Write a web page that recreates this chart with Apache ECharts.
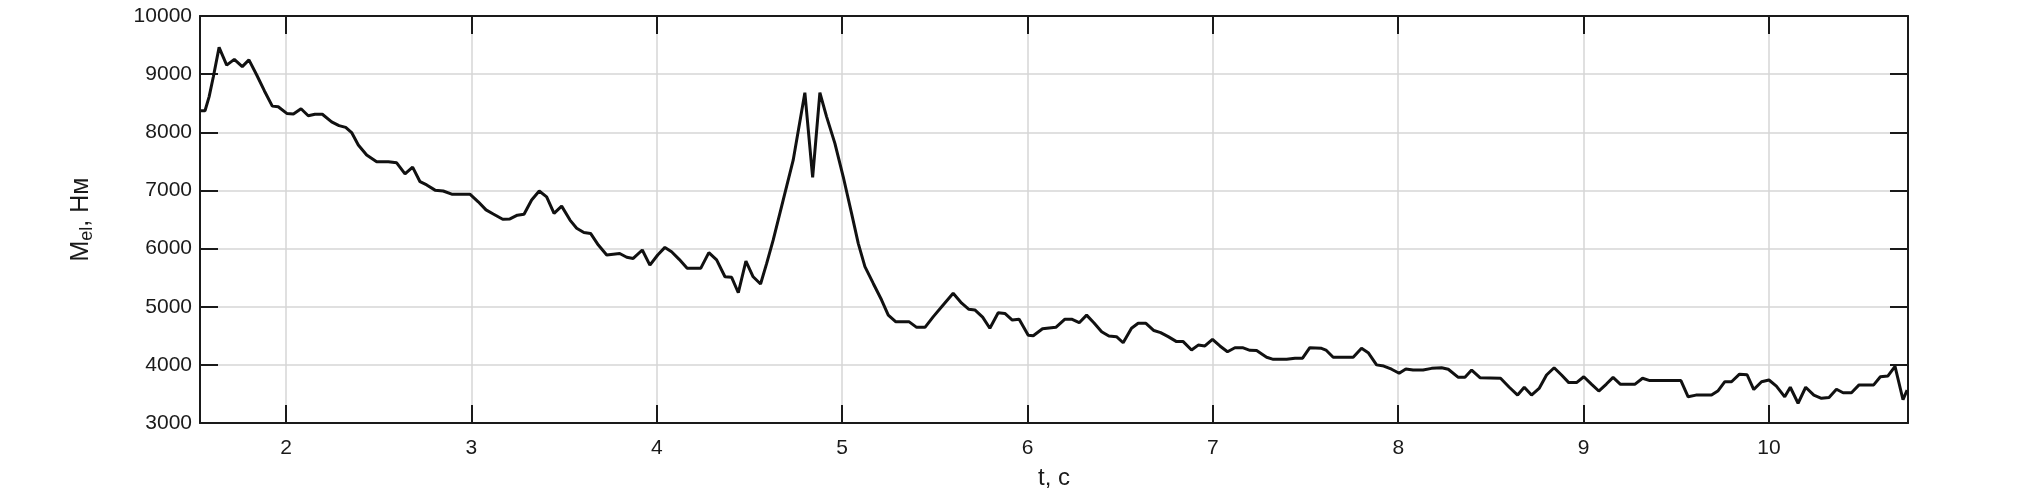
<!DOCTYPE html>
<html>
<head>
<meta charset="utf-8">
<script src="https://cdn.jsdelivr.net/npm/echarts@6/dist/echarts.min.js"></script>
<style>
html,body{margin:0;padding:0;background:#fff;}
#chart{width:2020px;height:496px;}
</style>
</head>
<body>
<div id="chart"></div>
<script>
// time, s
const tValues = [
1.540,1.563,1.585,1.608,1.639,1.680,1.721,1.764,1.800,1.842,1.883,1.926,1.958,2.004,2.040,2.081,2.120,2.156,2.196,2.246,
2.286,2.322,2.354,2.390,2.435,2.489,2.552,2.597,2.642,2.683,2.723,2.759,2.804,2.848,2.894,2.992,3.037,3.079,3.118,3.169,
3.208,3.248,3.284,3.325,3.366,3.406,3.446,3.487,3.532,3.568,3.607,3.643,3.685,3.730,3.800,3.838,3.873,3.922,3.963,4.005,
4.044,4.080,4.121,4.164,4.237,4.281,4.323,4.368,4.404,4.440,4.481,4.520,4.560,4.593,4.628,4.682,4.736,4.799,4.841,4.880,
4.916,4.961,5.006,5.051,5.087,5.123,5.168,5.213,5.249,5.290,5.362,5.402,5.447,5.492,5.545,5.599,5.645,5.684,5.716,5.758,
5.797,5.842,5.878,5.918,5.955,6.004,6.031,6.081,6.153,6.202,6.238,6.279,6.319,6.358,6.400,6.439,6.480,6.516,6.561,6.597,
6.639,6.682,6.718,6.759,6.804,6.840,6.885,6.921,6.957,6.998,7.038,7.079,7.119,7.160,7.200,7.236,7.290,7.326,7.398,7.443,
7.484,7.523,7.586,7.610,7.649,7.757,7.802,7.838,7.883,7.922,7.964,8.005,8.041,8.080,8.134,8.180,8.234,8.270,8.324,8.360,
8.396,8.441,8.552,8.599,8.644,8.680,8.719,8.760,8.800,8.841,8.881,8.920,8.962,9.001,9.042,9.082,9.123,9.159,9.199,9.276,
9.318,9.357,9.525,9.564,9.606,9.690,9.726,9.762,9.798,9.841,9.882,9.918,9.960,10.000,10.040,10.085,10.115,10.157,10.198,10.242,
10.283,10.324,10.364,10.400,10.445,10.486,10.565,10.601,10.642,10.680,10.723,10.745
];
// M_el, Nm
const mValues = [
8370,8370,8610,8955,9460,9155,9255,9130,9245,8985,8715,8450,8440,8325,8315,8405,8285,8310,8310,8180,
8115,8085,7995,7780,7610,7495,7495,7475,7285,7400,7150,7095,7005,6990,6935,6935,6805,6665,6595,6505,
6510,6575,6590,6835,6990,6890,6605,6730,6490,6350,6275,6260,6060,5890,5915,5850,5830,5975,5715,5890,
6020,5945,5815,5660,5660,5930,5805,5515,5505,5240,5785,5515,5390,5745,6145,6835,7520,8680,7225,8680,
8270,7810,7235,6605,6090,5690,5400,5115,4855,4740,4740,4645,4645,4830,5030,5230,5060,4955,4945,4820,
4630,4895,4885,4770,4785,4510,4500,4620,4645,4785,4785,4725,4855,4725,4570,4495,4485,4380,4630,4715,
4715,4590,4555,4485,4400,4400,4255,4340,4325,4440,4325,4225,4295,4295,4250,4245,4130,4095,4095,4115,
4115,4295,4285,4255,4130,4130,4285,4210,4000,3980,3925,3855,3930,3910,3910,3940,3950,3925,3785,3785,
3910,3780,3770,3615,3480,3615,3480,3595,3825,3950,3825,3695,3695,3795,3670,3550,3670,3785,3665,3665,
3770,3730,3730,3450,3480,3480,3555,3710,3710,3840,3830,3575,3710,3740,3635,3450,3615,3340,3615,3480,
3425,3440,3580,3520,3520,3655,3655,3795,3810,3975,3400,3565
];
const xTickValues = [2,3,4,5,6,7,8,9,10];
const xMin = 1.536, xMax = 10.75;
const yMin = 3000, yMax = 10000, yStep = 1000;
const xTitle = 't, c';

const chart = echarts.init(document.getElementById('chart'), null, {renderer:'canvas'});
const font = 'Liberation Sans, Arial, sans-serif';
const frame = {show:true, lineStyle:{color:'#1a1a1a', width:2}};
const tickIn = {show:true, inside:true, length:18, lineStyle:{color:'#1a1a1a', width:2}};
const gridLine = {show:true, lineStyle:{color:'#d6d6d6', width:1.5}};

chart.setOption({
  animation:false,
  backgroundColor:'#fff',
  grid:{left:200, right:112, top:16, bottom:73, containLabel:false},
  xAxis:[
    {type:'value', position:'bottom', min:xMin, max:xMax,
     axisLine:frame,
     axisTick:Object.assign({customValues:xTickValues}, tickIn),
     axisLabel:{customValues:xTickValues, color:'#1a1a1a', fontSize:21, fontFamily:font, margin:15,
                formatter:v=>String(v)},
     splitLine:gridLine,
     name:xTitle, nameLocation:'middle', nameGap:43,
     nameTextStyle:{color:'#1a1a1a', fontSize:24, fontFamily:font}},
    {type:'value', position:'top', min:xMin, max:xMax,
     axisLine:frame,
     axisTick:Object.assign({customValues:xTickValues}, tickIn),
     axisLabel:{show:false}, splitLine:{show:false}}
  ],
  yAxis:[
    {type:'value', position:'left', min:yMin, max:yMax, interval:yStep,
     axisLine:frame, axisTick:tickIn,
     axisLabel:{color:'#1a1a1a', fontSize:21, fontFamily:font, margin:8, formatter:v=>String(v)},
     splitLine:gridLine,
     name:'{a|M}{s|el}{a|, Нм}', nameLocation:'middle', nameGap:104,
     nameTextStyle:{color:'#1a1a1a', fontFamily:font,
       rich:{a:{fontSize:25, fontFamily:font, color:'#1a1a1a', lineHeight:30},
             s:{fontSize:18, fontFamily:font, color:'#1a1a1a', lineHeight:30, verticalAlign:'bottom', padding:[10,0,0,0]}}}},
    {type:'value', position:'right', min:yMin, max:yMax, interval:yStep,
     axisLine:frame, axisTick:tickIn,
     axisLabel:{show:false}, splitLine:{show:false}}
  ],
  series:[{
    type:'line', xAxisIndex:0, yAxisIndex:0,
    data:tValues.map((t,i)=>[t, mValues[i]]),
    showSymbol:false, symbol:'none',
    lineStyle:{color:'#111', width:3},
    z:5
  }]
});
</script>
</body>
</html>
